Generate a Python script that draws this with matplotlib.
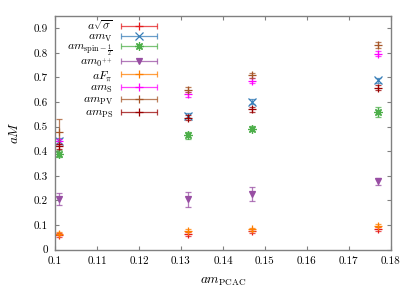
import matplotlib
matplotlib.use('Agg')
from matplotlib import pyplot as plt
from matplotlib.legend import Legend
from matplotlib.legend_handler import HandlerErrorbar
from matplotlib.container import ErrorbarContainer
import numpy as np

plt.rcParams['font.family'] = 'serif'
plt.rcParams['font.serif'] = ['cmr10']
plt.rcParams['mathtext.fontset'] = 'cm'
plt.rcParams['axes.formatter.use_mathtext'] = True
plt.rcParams['font.size'] = 8

# x positions (am_PCAC)
m_pcac = [0.101, 0.1317, 0.147, 0.177]

labels = [r'$a\sqrt{\sigma}$', r'$am_{\mathrm{V}}$', r'$am_{\mathrm{spin}-\frac{1}{2}}$',
          r'$am_{0^{++}}$', r'$aF_{\pi}$', r'$am_{\mathrm{S}}$',
          r'$am_{\mathrm{PV}}$', r'$am_{\mathrm{PS}}$']

sqrt_sigma = [0.059, 0.065, 0.076, 0.082]
sqrt_sigma_err = [0.008, 0.008, 0.008, 0.008]
m_v = [0.44, 0.545, 0.601, 0.689]
m_v_err = [0.012, 0.01, 0.01, 0.01]
m_spin = [0.39, 0.465, 0.492, 0.56]
m_spin_err = [0.015, 0.015, 0.01, 0.02]
m_0pp = [0.205, 0.205, 0.226, 0.277]
m_0pp_err = [0.025, 0.03, 0.03, 0.015]
f_pi = [0.064, 0.077, 0.083, 0.097]
f_pi_err = [0.006, 0.006, 0.006, 0.006]
m_s = [0.44, 0.632, 0.687, 0.796]
m_s_err = [0.01, 0.01, 0.01, 0.01]
m_pv = [0.48, 0.65, 0.709, 0.833]
m_pv_err = [0.05, 0.01, 0.01, 0.012]
m_ps = [0.42, 0.537, 0.571, 0.658]
m_ps_err = [0.01, 0.01, 0.01, 0.01]

series = [sqrt_sigma, m_v, m_spin, m_0pp, f_pi, m_s, m_pv, m_ps]
errors = [sqrt_sigma_err, m_v_err, m_spin_err, m_0pp_err, f_pi_err, m_s_err, m_pv_err, m_ps_err]
colors = ['#e41a1c', '#377eb8', '#4daf4a', '#984ea3', '#ff7f00', '#ff00ff', '#a65628', '#990000']
markers = ['+', 'x', (8, 2, 0), 'v', '+', '+', '+', '+']
msizes = [6, 6, 6, 4.5, 6, 6, 6, 6]

fig = plt.figure(figsize=(4.15, 2.92), dpi=100)
ax = fig.add_axes([0.1325, 0.1455, 0.8095, 0.7995])

handles = []
for y, e, c, m, ms, lab in zip(series, errors, colors, markers, msizes, labels):
    cont = ax.errorbar(m_pcac, y, yerr=e, fmt='none', ecolor=c, elinewidth=0.9,
                       capsize=2, capthick=0.9, alpha=0.75)
    ax.plot(m_pcac, y, linestyle='none', marker=m, color=c, markersize=ms,
            markeredgewidth=0.9)
    # legend proxy in gnuplot style: horizontal bar with caps and point in the middle
    pt, = ax.plot([], [], linestyle='none', marker=m, color=c, markersize=ms,
                  markeredgewidth=0.9)
    proxy = ErrorbarContainer((pt, cont.lines[1], cont.lines[2]),
                              has_xerr=True, has_yerr=False, label=lab)
    handles.append(proxy)

# gnuplot-like key: one row per entry, evenly spaced
row_top = 0.962
row_step = 0.0545
for i, h in enumerate(handles):
    leg = Legend(ax, [h], [h.get_label()], markerfirst=False, loc='center right',
                 bbox_to_anchor=(0.306, row_top - i * row_step), frameon=False,
                 handlelength=3.2, handletextpad=0.6, borderpad=0.0,
                 borderaxespad=0.0, fontsize=8.5, numpoints=1,
                 handler_map={ErrorbarContainer: HandlerErrorbar(xerr_size=1.5)})
    ax.add_artist(leg)

ax.set_xlim(0.1, 0.18)
ax.set_ylim(0, 0.95)
ax.set_xticks(np.arange(0.1, 0.1801, 0.01))
ax.set_yticks(np.arange(0, 0.91, 0.1))
ax.set_xticklabels(['0.1', '0.11', '0.12', '0.13', '0.14', '0.15', '0.16', '0.17', '0.18'])
ax.set_yticklabels(['0', '0.1', '0.2', '0.3', '0.4', '0.5', '0.6', '0.7', '0.8', '0.9'])
ax.tick_params(direction='in', top=True, right=True, length=3, color='#808080', pad=5)
for s in ax.spines.values():
    s.set_color('#808080')
    s.set_linewidth(1.0)

ax.set_xlabel(r'$am_{\mathrm{PCAC}}$', fontsize=9.5, labelpad=7)
ax.set_ylabel(r'$aM$', fontsize=9.5, labelpad=9)

plt.savefig('out.png', dpi=100)
